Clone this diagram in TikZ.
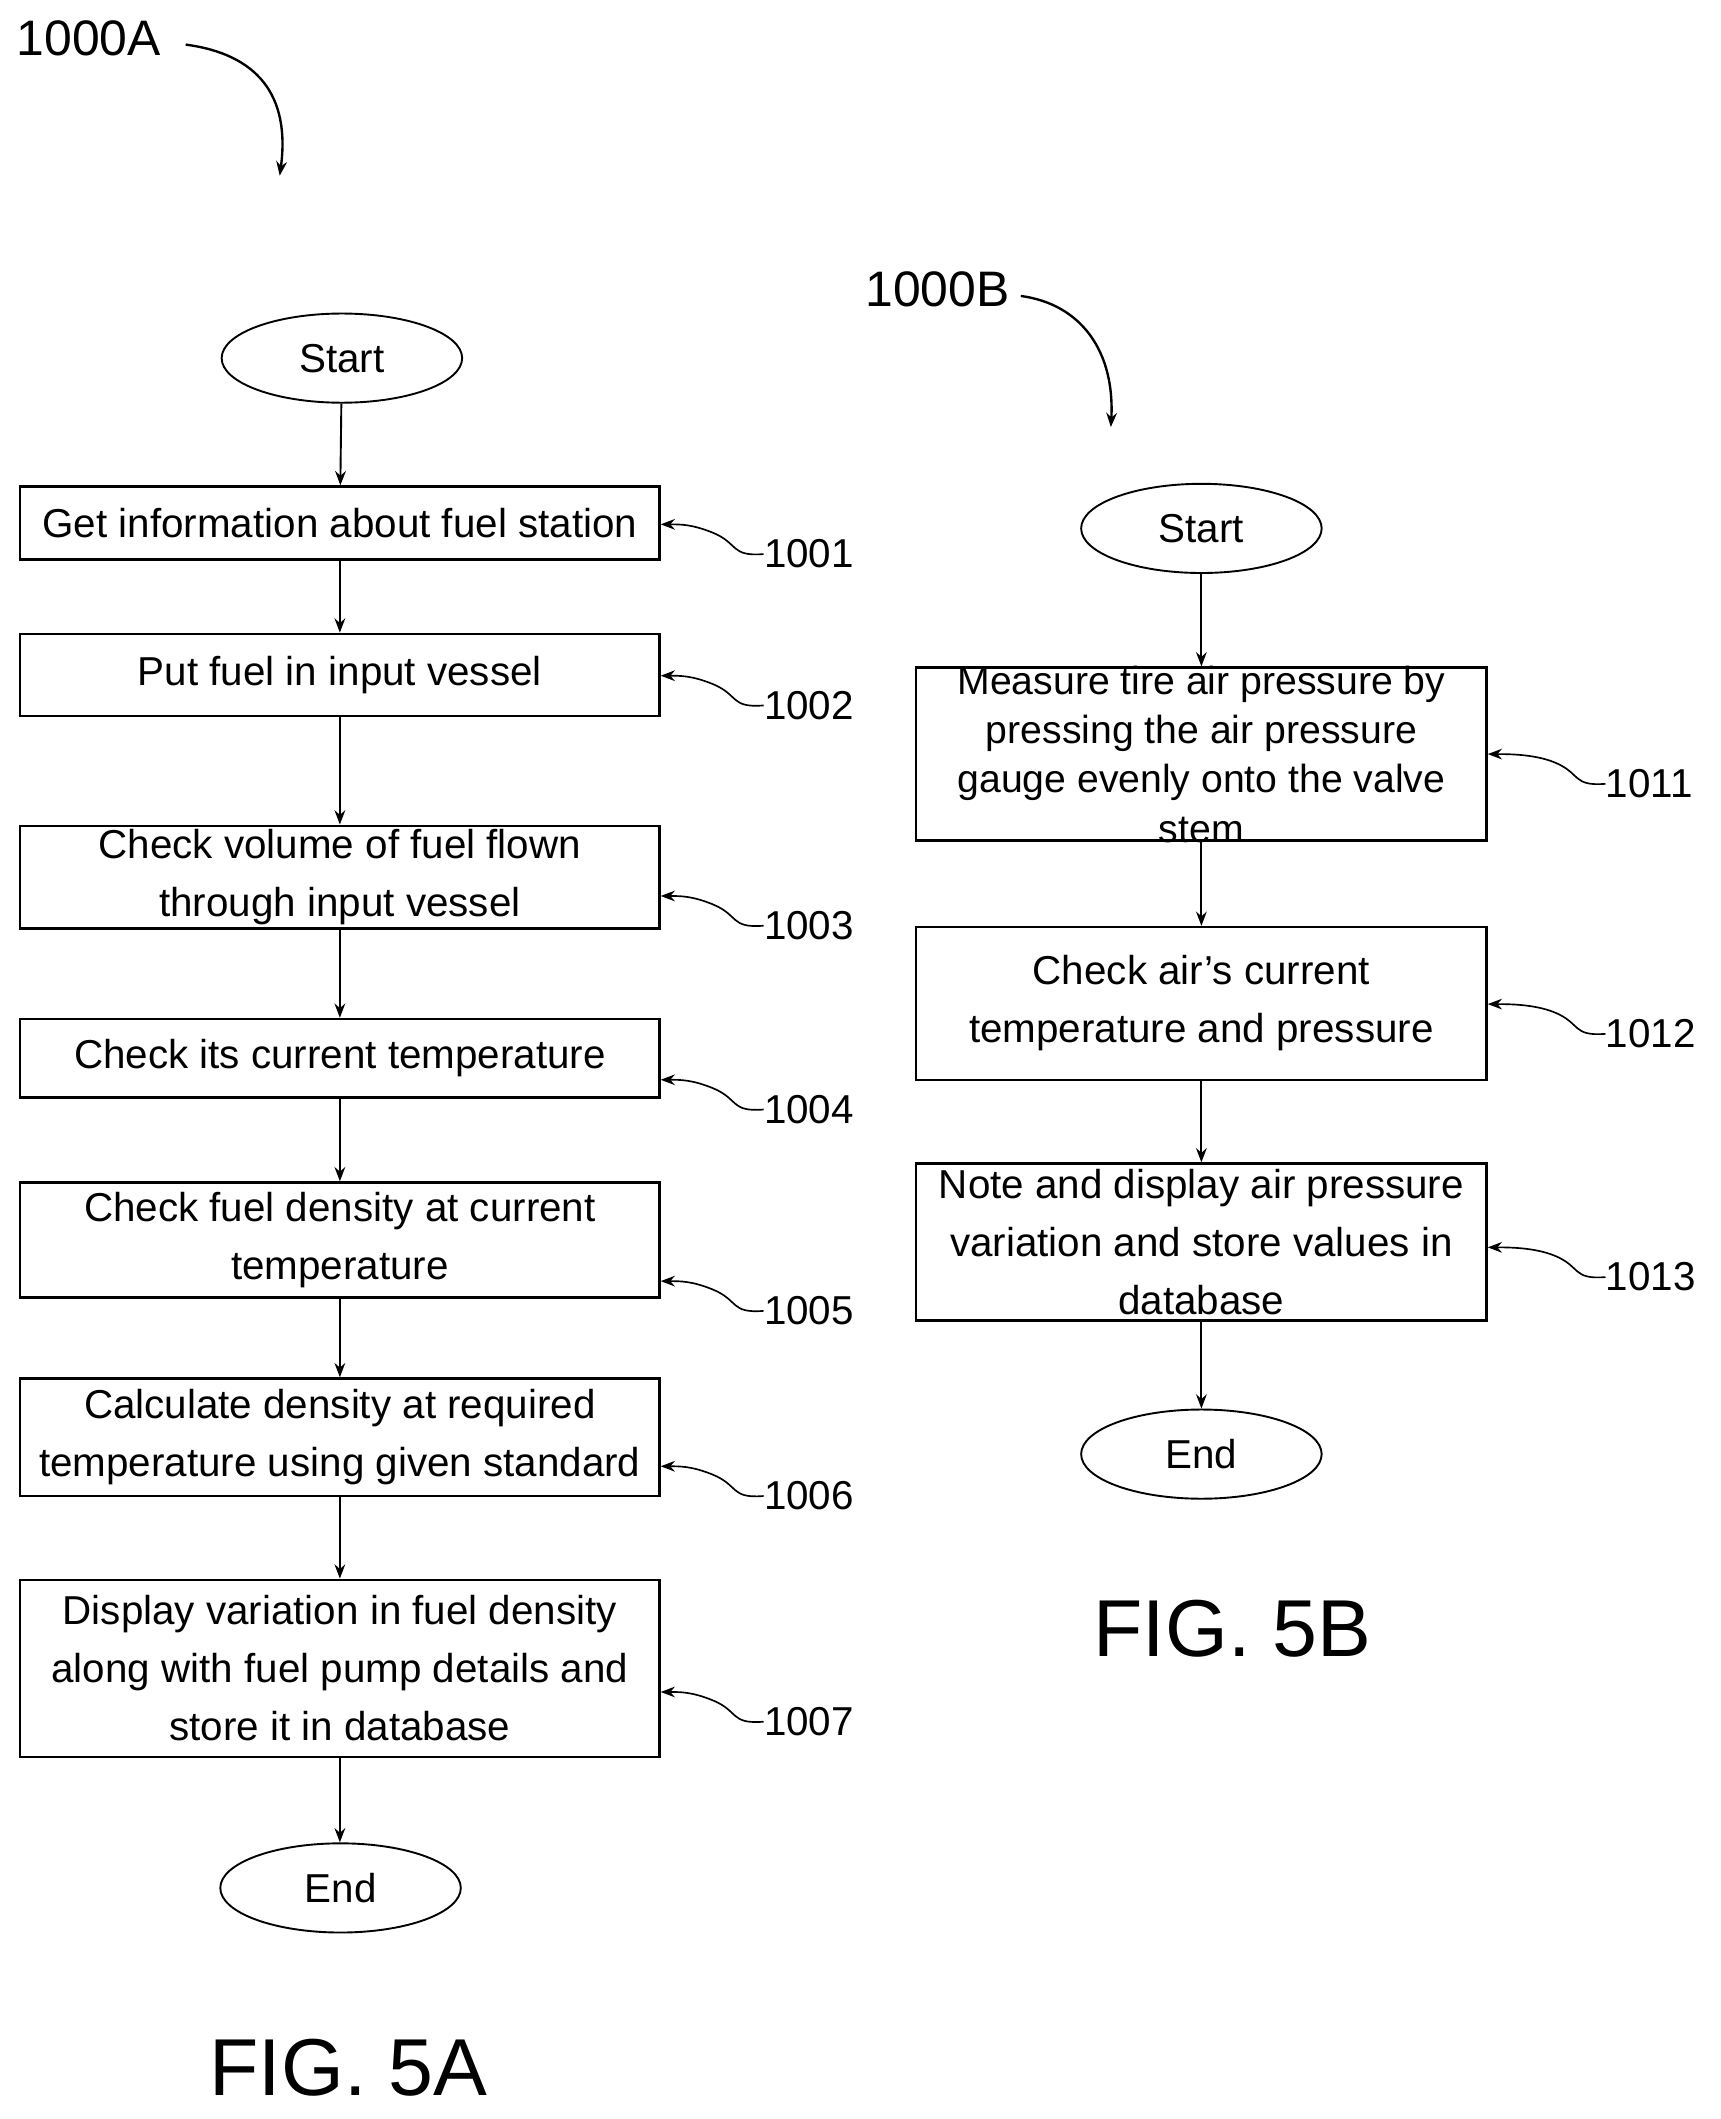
\documentclass[tikz,border=0pt]{standalone}
\usepackage{fontspec}
\setmainfont{Liberation Sans}
\usetikzlibrary{arrows.meta,shapes.geometric}
\begin{document}
\begin{tikzpicture}[x=0.02cm,y=-0.02cm,
 box/.style={draw,line width=1pt,inner sep=0pt},
 txt/.style={align=center,font=\fontsize{17}{24.5}\selectfont,inner sep=0pt},
 term/.style={draw,ellipse,line width=0.8pt,minimum width=3.56cm,minimum height=1.32cm,font=\fontsize{17}{20}\selectfont},
 flow/.style={-{Stealth[length=6pt]},line width=0.8pt},
 ref/.style={-{Stealth[length=6pt]},line width=0.7pt},
 num/.style={font=\fontsize{17}{20}\selectfont,anchor=west,inner sep=0pt}]
\useasboundingbox (0,0) rectangle (1273,1568);
\newcommand{\bx}[6]{\node[box,minimum width={(#3-#1)*0.02cm},minimum height={(#4-#2)*0.02cm}] (#5) at ({(#1+#3)/2},{(#2+#4)/2}) {};
 \node[txt] at (#5) {#6};}
% ----- A -----
\node[term] (sa) at (253,265) {Start};
\bx{15}{360}{488}{414}{a1}{Get information about fuel station}
\bx{15}{469}{488}{530}{a2}{Put fuel in input vessel}
\bx{15}{611}{488}{687}{a3}{Check volume of fuel flown\\through input vessel}
\bx{15}{754}{488}{812}{a4}{Check its current temperature}
\bx{15}{875}{488}{960}{a5}{Check fuel density at current\\temperature}
\bx{15}{1020}{488}{1107}{a6}{Calculate density at required\\temperature using given standard}
\bx{15}{1169}{488}{1300}{a7}{Display variation in fuel density\\along with fuel pump details and\\store it in database}
\node[term] (ea) at (252,1397) {End};
\draw[flow] (sa) -- (a1);
\foreach \p/\q in {a1/a2,a2/a3,a3/a4,a4/a5,a5/a6,a6/a7,a7/ea} \draw[flow] (\p.south) -- (\q.north -| \p.south);
\foreach \b/\n/\y in {a1/1001/410,a2/1002/522,a3/1003/685,a4/1004/821,a5/1005/970,a6/1006/1107,a7/1007/1274}{
 \node[num] (n\n) at (565,\y) {\n};
 \draw[ref] (n\n.west) .. controls +(-25,2) and +(20,8) .. ++(-38,-16) .. controls +(-15,-6) and +(15,0) .. (\b.east |- 0,{\y-22});
}
% ----- B -----
\node[term] (sb) at (889,391) {Start};
\bx{678}{494}{1100}{622}{b1}{}
\node[txt,font=\fontsize{16.5}{20.8}\selectfont] at (b1) {Measure tire air pressure by\\pressing the air pressure\\gauge evenly onto the valve\\stem};
\bx{678}{686}{1100}{799}{b2}{Check air's current\\temperature and pressure}
\bx{678}{861}{1100}{977}{b3}{Note and display air pressure\\variation and store values in\\database}
\node[term] (eb) at (889,1076) {End};
\draw[flow] (sb) -- (b1);
\foreach \p/\q in {b1/b2,b2/b3,b3/eb} \draw[flow] (\p.south) -- (\q.north -| \p.south);
\foreach \b/\n/\y in {b1/1011/580,b2/1012/765,b3/1013/945}{
 \node[num] (n\n) at (1188,\y) {\n};
 \draw[ref] (n\n.west) .. controls +(-25,2) and +(20,8) .. ++(-38,-16) .. controls +(-15,-6) and +(15,0) .. (\b.east |- 0,{\y-22});
}
% ----- titles -----
\node[num,font=\fontsize{21}{24}\selectfont] (ta) at (12,28) {1000A};
\coordinate (ta2) at (207,130);
\draw[ref,line width=1pt] (ta.east) ++(18,5) .. controls (190,40) and (215,70) .. (ta2);
\node[num,font=\fontsize{21}{24}\selectfont] (tb) at (640,214) {1000B};
\coordinate (tb2) at (822,316);
\draw[ref,line width=1pt] (tb.east) ++(8,5) .. controls (800,225) and (825,260) .. (tb2);
\node[font=\fontsize{34}{40}\selectfont] (fa) at (258,1530) {FIG. 5A};
\node[font=\fontsize{34}{40}\selectfont] (fb) at (912,1205) {FIG. 5B};
\end{tikzpicture}
\end{document}
